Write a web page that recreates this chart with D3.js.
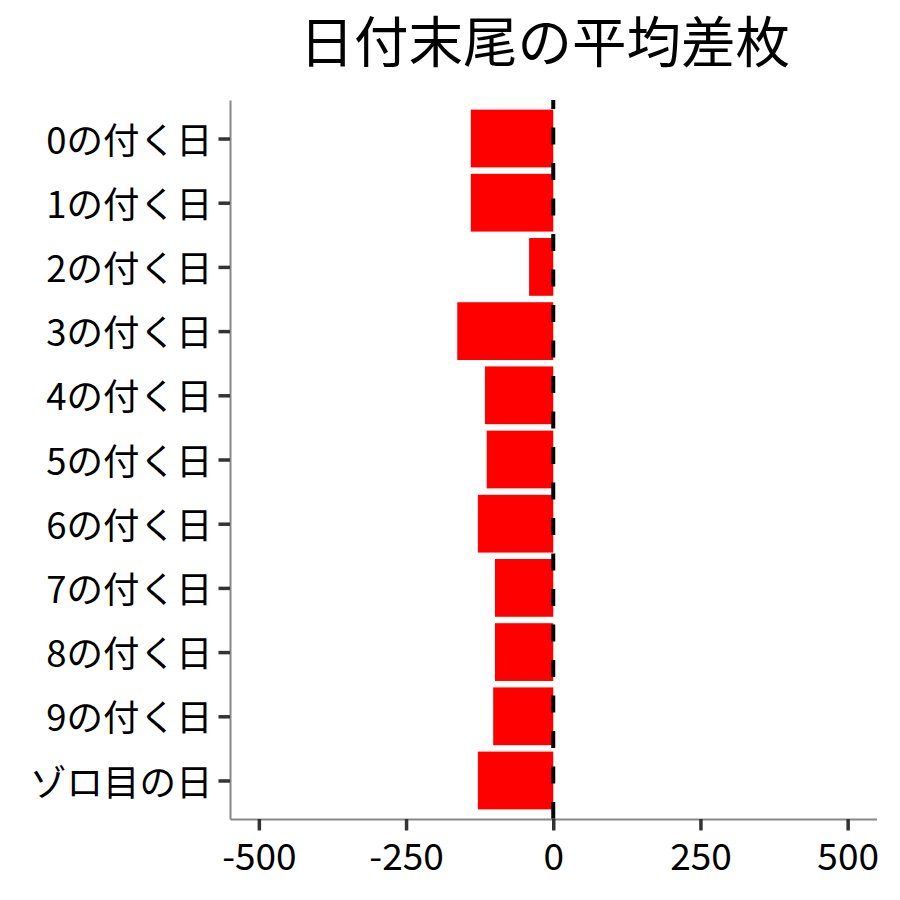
<!DOCTYPE html>
<html>
<head>
<meta charset="utf-8">
<script src="https://cdn.jsdelivr.net/npm/d3@7"></script>
<style>
  body { margin: 0; background: #fff; }
  text { font-family: "Noto Sans CJK JP", "Noto Sans", sans-serif; }
</style>
</head>
<body>
<script>
// data
var categories = ['0の付く日', '1の付く日', '2の付く日', '3の付く日', '4の付く日',
                  '5の付く日', '6の付く日', '7の付く日', '8の付く日', '9の付く日', 'ゾロ目の日'];
var values = [-140, -140, -41, -163, -116, -113, -128, -99, -99, -102, -128];
var xTicks = [-500, -250, 0, 250, 500];
var title = '日付末尾の平均差枚';

var width = 900, height = 900;
var mLeft = 230, mRight = 876.5, mTop = 100, mBottom = 819;

var svg = d3.select('body').append('svg')
  .attr('width', width)
  .attr('height', height);

var x = d3.scaleLinear().domain([-549, 549]).range([mLeft, mRight]);
var y = d3.scalePoint().domain(categories).range([mTop, mBottom]).padding(0.6);
var barH = y.step() * 0.9;

// bars
svg.selectAll('.bar')
  .data(categories)
  .enter().append('rect')
  .attr('class', 'bar')
  .attr('x', function(d, i){ return x(Math.min(0, values[i])); })
  .attr('width', function(d, i){ return Math.abs(x(values[i]) - x(0)); })
  .attr('y', function(d){ return y(d) - barH / 2; })
  .attr('height', barH)
  .style('fill', '#ff0000');

// dashed zero line, drawn from the bottom up
svg.append('line')
  .attr('x1', x(0)).attr('x2', x(0))
  .attr('y1', mBottom).attr('y2', mTop)
  .style('stroke', '#000')
  .style('stroke-width', 4)
  .style('stroke-dasharray', '17,18.5');

// x axis
var xAxis = svg.append('g')
  .attr('transform', 'translate(0,' + mBottom + ')')
  .call(d3.axisBottom(x).tickValues(xTicks).tickSize(11.5).tickSizeOuter(0).tickPadding(6)
        .tickFormat(function(d){ return String(d); }));
xAxis.select('.domain').style('stroke', '#888').style('stroke-width', 2);
xAxis.selectAll('.tick line').style('stroke', '#333').style('stroke-width', 3.5);
xAxis.selectAll('.tick text')
  .style('font-size', '37px').style('fill', '#000')
  .attr('dy', '0.9em');

// y axis
var yAxis = svg.append('g')
  .attr('transform', 'translate(' + mLeft + ',0)')
  .call(d3.axisLeft(y).tickSize(11.5).tickSizeOuter(0).tickPadding(6));
yAxis.select('.domain').style('stroke', '#888').style('stroke-width', 2);
yAxis.selectAll('.tick line').style('stroke', '#333').style('stroke-width', 3.5);
yAxis.selectAll('.tick text')
  .style('font-size', '36.5px').style('fill', '#000')
  .attr('dy', '0.4em');

// title
svg.append('text')
  .attr('x', (mLeft + mRight) / 2 - 8.5)
  .attr('y', 62)
  .attr('text-anchor', 'middle')
  .style('font-size', '54.5px')
  .style('fill', '#000')
  .text(title);
</script>
</body>
</html>
